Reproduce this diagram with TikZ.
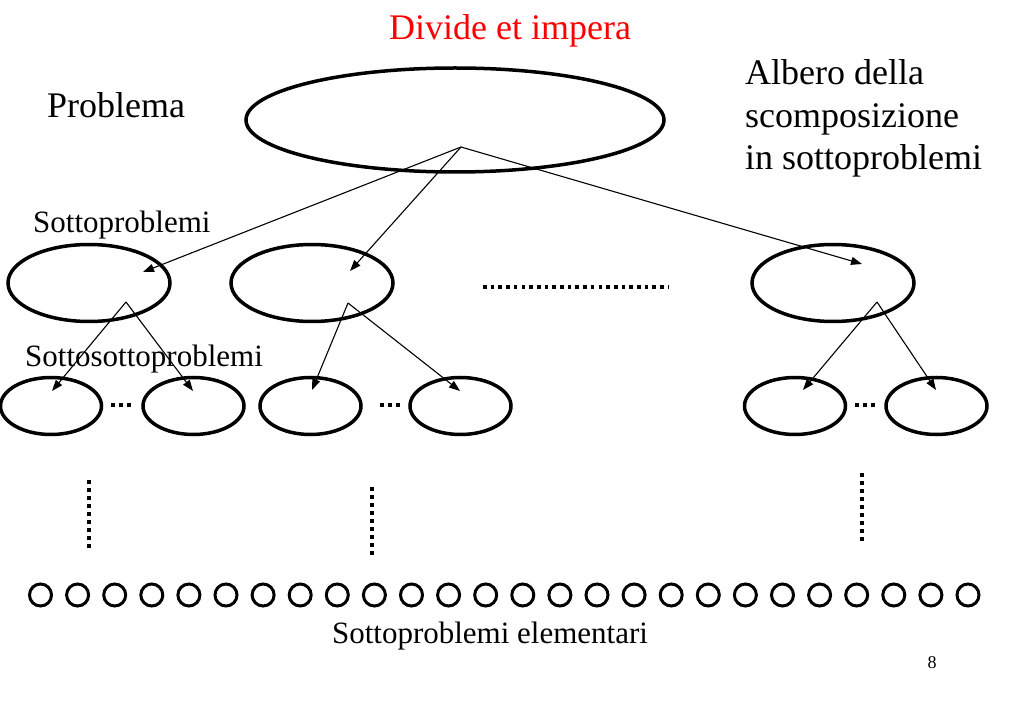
\documentclass[tikz,border=0pt]{standalone}
\usepackage{fontspec}
\setmainfont{Liberation Serif}
\usetikzlibrary{shapes.geometric,arrows.meta}
\begin{document}
\begin{tikzpicture}[x=1pt,y=-1pt,
  big/.style={font=\fontsize{36}{43}\selectfont, inner sep=0pt},
  mid/.style={font=\fontsize{31}{36}\selectfont, inner sep=0pt},
  oval/.style={draw, ellipse, line width=3.5pt, inner sep=0pt},
  subov/.style={oval, minimum width=162pt, minimum height=77pt},
  leafov/.style={oval, minimum width=101pt, minimum height=57pt},
  arr/.style={line width=1.1pt, -{Triangle[length=11pt,width=8pt]}},
  dotline/.style={line width=4pt, dash pattern=on 4pt off 4pt},
  leaf/.style={draw, circle, line width=3pt, minimum size=22pt, inner sep=0pt}]
\fill[white] (0,0) rectangle (1023,708);
\useasboundingbox (0,0) rectangle (1023,708);

% texts
\node[big, text=red, anchor=base] (title) at (510,40) {Divide et impera};
\node[big, anchor=base west] (prob) at (47,118) {Problema};
\node[big, anchor=base west] (tree1) at (745,85) {Albero della};
\node[big, anchor=base west] (tree2) at (745,128) {scomposizione};
\node[big, anchor=base west] (tree3) at (745,170) {in sottoproblemi};
\node[mid, anchor=base west] (lsub) at (33,233) {Sottoproblemi};
\node[mid, anchor=base west] (lsubsub) at (25,367) {Sottosottoproblemi};
\node[mid, anchor=base] (lelem) at (490,643) {Sottoproblemi elementari};
\node[font=\fontsize{18}{20}\selectfont, inner sep=0pt, anchor=base] (page) at (932,668) {8};

% root
\node[oval, minimum width=418pt, minimum height=104pt] (P) at (455,120) {};
\coordinate (a0) at (461,147);

% level 1
\node[subov] (S1) at (89,283) {};
\node[subov] (S2) at (312,283) {};
\node[subov] (S3) at (833,283) {};
\coordinate (t1) at (143,272);
\coordinate (t2) at (350,271);
\coordinate (t3) at (862,264);
\coordinate (a1) at (126,302);
\coordinate (a2) at (348,303);
\coordinate (a3) at (877,302);

% level 2
\node[leafov] (L1) at (51,406) {};
\node[leafov] (L2) at (193.5,406) {};
\node[leafov] (L3) at (310.5,406) {};
\node[leafov] (L4) at (460.5,406) {};
\node[leafov] (L5) at (795,406) {};
\node[leafov] (L6) at (936.5,406) {};
\coordinate (u1) at (52,391);
\coordinate (u2) at (193,391);
\coordinate (u3) at (312,390);
\coordinate (u4) at (460,391);
\coordinate (u5) at (803,390);
\coordinate (u6) at (936,390);

% arrows
\draw[arr] (a0) -- (t1);
\draw[arr] (a0) -- (t2);
\draw[arr] (a0) -- (t3);
\draw[arr] (a1) -- (u1);
\draw[arr] (a1) -- (u2);
\draw[arr] (a2) -- (u3);
\draw[arr] (a2) -- (u4);
\draw[arr] (a3) -- (u5);
\draw[arr] (a3) -- (u6);

% dots
\draw[dotline, dash pattern=on 3.6pt off 4.1pt] (483,287) -- (668,287);
\draw[dotline] (111,405) -- (131,405);
\draw[dotline] (380,405) -- (400,405);
\draw[dotline] (855,405) -- (875,405);
\draw[dotline] (89,480) -- (89,548);
\draw[dotline] (372,487) -- (372,555);
\draw[dotline] (862,473) -- (862,541);

% elementary subproblems
\foreach \i in {0,...,25} {
  \node[leaf] (c\i) at ({40.5+37.1*\i},595) {};
}
\end{tikzpicture}
\end{document}
